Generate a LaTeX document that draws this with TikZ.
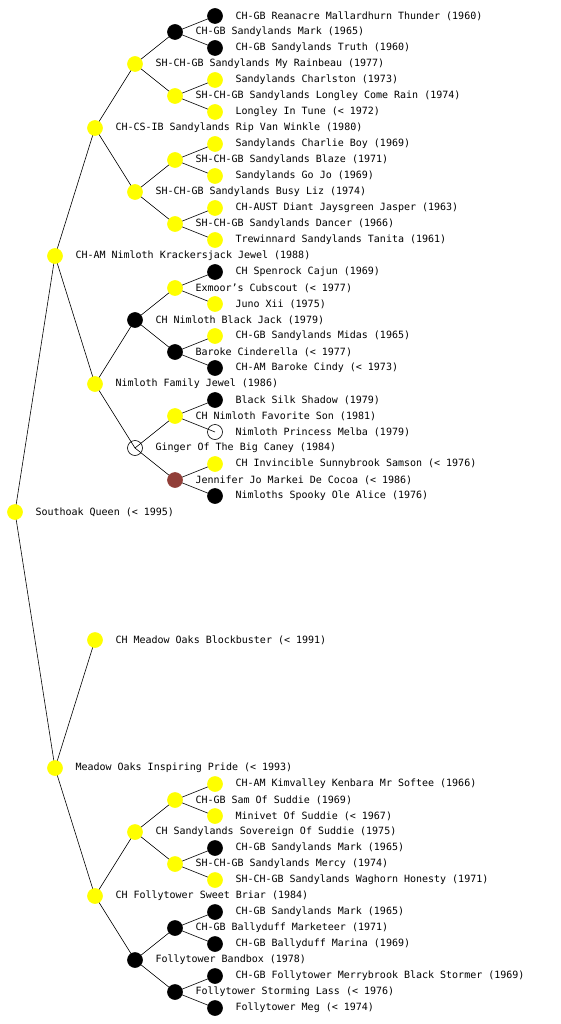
\documentclass[tikz,border=0pt]{standalone}
\usepackage{fontspec}
\setmonofont{DejaVu Sans Mono}
\usetikzlibrary{backgrounds}
\definecolor{liver}{RGB}{145,62,56}
\definecolor{dogyellow}{RGB}{255,255,0}

\begin{document}
\begin{tikzpicture}[x=1pt, y=-1pt,
    dot/.style={circle, draw=black, line width=0.6pt, minimum size=15pt, inner sep=0pt},
    yd/.style={fill=dogyellow, draw=dogyellow},
    kd/.style={fill=black},
    wd/.style={fill=none},
    bd/.style={fill=liver, draw=liver},
    lbl/.style={font=\ttfamily\fontsize{10}{12}\selectfont, inner sep=0pt, xshift=12.5pt},
    edge/.style={line width=0.6pt}]
    \useasboundingbox (0,0) rectangle (560,1024);

    % Ahnen, Generation fuer Generation
    \foreach \id/\x/\y/\c/\t in {
        sq/15/512/yd/Southoak Queen (< 1995),
        kj/55/256/yd/CH-AM Nimloth Krackersjack Jewel (1988),
        ip/55/768/yd/Meadow Oaks Inspiring Pride (< 1993),
        rv/95/128/yd/CH-CS-IB Sandylands Rip Van Winkle (1980),
        fj/95/384/yd/Nimloth Family Jewel (1986),
        bb/95/640/yd/CH Meadow Oaks Blockbuster (< 1991),
        sb/95/896/yd/CH Follytower Sweet Briar (1984),
        mr/135/64/yd/SH-CH-GB Sandylands My Rainbeau (1977),
        bl/135/192/yd/SH-CH-GB Sandylands Busy Liz (1974),
        bj/135/320/kd/CH Nimloth Black Jack (1979),
        gc/135/448/wd/Ginger Of The Big Caney (1984),
        ss/135/832/yd/CH Sandylands Sovereign Of Suddie (1975),
        fb/135/960/kd/Follytower Bandbox (1978),
        sm/175/32/kd/CH-GB Sandylands Mark (1965),
        lc/175/96/yd/SH-CH-GB Sandylands Longley Come Rain (1974),
        bz/175/160/yd/SH-CH-GB Sandylands Blaze (1971),
        dc/175/224/yd/SH-CH-GB Sandylands Dancer (1966),
        ec/175/288/yd/Exmoor’s Cubscout (< 1977),
        bc/175/352/kd/Baroke Cinderella (< 1977),
        fs/175/416/yd/CH Nimloth Favorite Son (1981),
        jj/175/480/bd/Jennifer Jo Markei De Cocoa (< 1986),
        sa/175/800/yd/CH-GB Sam Of Suddie (1969),
        me/175/864/yd/SH-CH-GB Sandylands Mercy (1974),
        bm/175/928/kd/CH-GB Ballyduff Marketeer (1971),
        sl/175/992/kd/Follytower Storming Lass (< 1976),
        ra/215/16/kd/CH-GB Reanacre Mallardhurn Thunder (1960),
        tr/215/48/kd/CH-GB Sandylands Truth (1960),
        ch/215/80/yd/Sandylands Charlston (1973),
        lt/215/112/yd/Longley In Tune (< 1972),
        cb/215/144/yd/Sandylands Charlie Boy (1969),
        gj/215/176/yd/Sandylands Go Jo (1969),
        jp/215/208/yd/CH-AUST Diant Jaysgreen Jasper (1963),
        tt/215/240/yd/Trewinnard Sandylands Tanita (1961),
        cj/215/272/kd/CH Spenrock Cajun (1969),
        jx/215/304/yd/Juno Xii (1975),
        md/215/336/yd/CH-GB Sandylands Midas (1965),
        cy/215/368/kd/CH-AM Baroke Cindy (< 1973),
        bs/215/400/kd/Black Silk Shadow (1979),
        pm/215/432/wd/Nimloth Princess Melba (1979),
        sn/215/464/yd/CH Invincible Sunnybrook Samson (< 1976),
        oa/215/496/kd/Nimloths Spooky Ole Alice (1976),
        ms/215/784/yd/CH-AM Kimvalley Kenbara Mr Softee (1966),
        mv/215/816/yd/Minivet Of Suddie (< 1967),
        mk/215/848/kd/CH-GB Sandylands Mark (1965),
        wh/215/880/yd/SH-CH-GB Sandylands Waghorn Honesty (1971),
        mx/215/912/kd/CH-GB Sandylands Mark (1965),
        ma/215/944/kd/CH-GB Ballyduff Marina (1969),
        bst/215/976/kd/CH-GB Follytower Merrybrook Black Stormer (1969),
        mg/215/1008/kd/Follytower Meg (< 1974)} {
        \node[dot, \c, label={[lbl]right:\t}] (\id) at (\x,\y) {};
    }

    % Linien Eltern -> Kind
    \begin{pgfonlayer}{background}
    \foreach \a/\b in {sq/kj, sq/ip, kj/rv, kj/fj, ip/bb, ip/sb,
        rv/mr, rv/bl, fj/bj, fj/gc, sb/ss, sb/fb,
        mr/sm, mr/lc, bl/bz, bl/dc, bj/ec, bj/bc, gc/fs, gc/jj,
        ss/sa, ss/me, fb/bm, fb/sl,
        sm/ra, sm/tr, lc/ch, lc/lt, bz/cb, bz/gj, dc/jp, dc/tt,
        ec/cj, ec/jx, bc/md, bc/cy, fs/bs, fs/pm, jj/sn, jj/oa,
        sa/ms, sa/mv, me/mk, me/wh, bm/mx, bm/ma, sl/bst, sl/mg} {
        \draw[edge] (\a.center) -- (\b.center);
    }
    \end{pgfonlayer}
\end{tikzpicture}
\end{document}
